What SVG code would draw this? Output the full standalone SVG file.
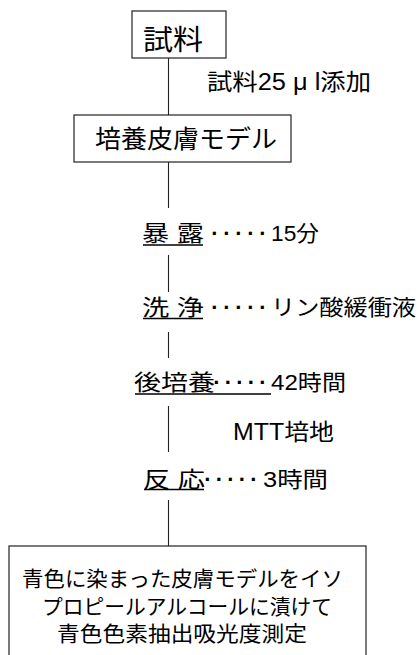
<svg xmlns="http://www.w3.org/2000/svg" width="418" height="655" viewBox="0 0 418 655">
<style>
.t{font-family:"Liberation Sans","Noto Sans CJK JP",sans-serif;fill:#000}
.d{font-family:"Liberation Sans",sans-serif;font-weight:bold;font-size:22px;fill:#000;text-anchor:middle}
.box{fill:#fff;stroke:#222;stroke-width:1.2}
.ln{stroke:#222;stroke-width:1.1;fill:none}
.ul{stroke:#000;stroke-width:1.3}
</style>
<rect width="418" height="655" fill="#fff"/>
<g id="connectors">
<line class="ln" x1="168.5" y1="58" x2="168.5" y2="115"/>
<line class="ln" x1="168.5" y1="162" x2="168.5" y2="208"/>
<line class="ln" x1="168.5" y1="255" x2="168.5" y2="292"/>
<line class="ln" x1="168.5" y1="332" x2="168.5" y2="358"/>
<line class="ln" x1="168.5" y1="406" x2="168.5" y2="452"/>
<line class="ln" x1="168.5" y1="500" x2="168.5" y2="546"/>
</g>
<g id="sample">
<rect class="box" x="132" y="11" width="94" height="47"/>
<text class="t" x="143" y="50" font-size="28" textLength="60" lengthAdjust="spacingAndGlyphs">試料</text>
</g>
<g id="add-label">
<text class="t" x="207" y="90" font-size="23" textLength="164" lengthAdjust="spacingAndGlyphs">試料25 μ l添加</text>
</g>
<g id="skin-model">
<rect class="box" x="74" y="115" width="217" height="47"/>
<text class="t" x="95" y="148" font-size="25" textLength="182" lengthAdjust="spacingAndGlyphs">培養皮膚モデル</text>
</g>
<g id="exposure">
<text class="t" x="142" y="241" font-size="22" textLength="62" lengthAdjust="spacingAndGlyphs">暴 露</text>
<line class="ul" x1="143" y1="245" x2="203" y2="245"/>
<text class="d" x="215 227 239 251 263" y="241">·····</text>
<text class="t" x="271" y="241" font-size="22" textLength="48" lengthAdjust="spacingAndGlyphs">15分</text>
</g>
<g id="wash">
<text class="t" x="142" y="315" font-size="22" textLength="62" lengthAdjust="spacingAndGlyphs">洗 浄</text>
<line class="ul" x1="143" y1="318.5" x2="203" y2="318.5"/>
<text class="d" x="215 227 239 251 263" y="315">·····</text>
<text class="t" x="271" y="315" font-size="22" textLength="145" lengthAdjust="spacingAndGlyphs">リン酸緩衝液</text>
</g>
<g id="post-culture">
<text class="t" x="134" y="390" font-size="22" textLength="81" lengthAdjust="spacingAndGlyphs">後培養</text>
<text class="d" x="217 228.5 240 251.5 263" y="390">·····</text>
<line class="ul" x1="135" y1="394" x2="271" y2="394"/>
<text class="t" x="271" y="390" font-size="22" textLength="75" lengthAdjust="spacingAndGlyphs">42時間</text>
</g>
<g id="mtt-label">
<text class="t" x="233" y="440" font-size="23" textLength="101" lengthAdjust="spacingAndGlyphs">MTT培地</text>
</g>
<g id="reaction">
<text class="t" x="143" y="487" font-size="22" textLength="62" lengthAdjust="spacingAndGlyphs">反 応</text>
<line class="ul" x1="144" y1="489.5" x2="204" y2="489.5"/>
<text class="d" x="208 219.5 231 242.5 254" y="487">·····</text>
<text class="t" x="263" y="487" font-size="22" textLength="65" lengthAdjust="spacingAndGlyphs">3時間</text>
</g>
<g id="measurement">
<rect class="box" x="9" y="546" width="357" height="130"/>
<text class="t" x="22" y="586" font-size="21" textLength="321" lengthAdjust="spacingAndGlyphs">青色に染まった皮膚モデルをイソ</text>
<text class="t" x="42" y="614" font-size="21" textLength="290" lengthAdjust="spacingAndGlyphs">プロピールアルコールに漬けて</text>
<text class="t" x="57" y="641" font-size="21" textLength="250" lengthAdjust="spacingAndGlyphs">青色色素抽出吸光度測定</text>
</g>
</svg>
